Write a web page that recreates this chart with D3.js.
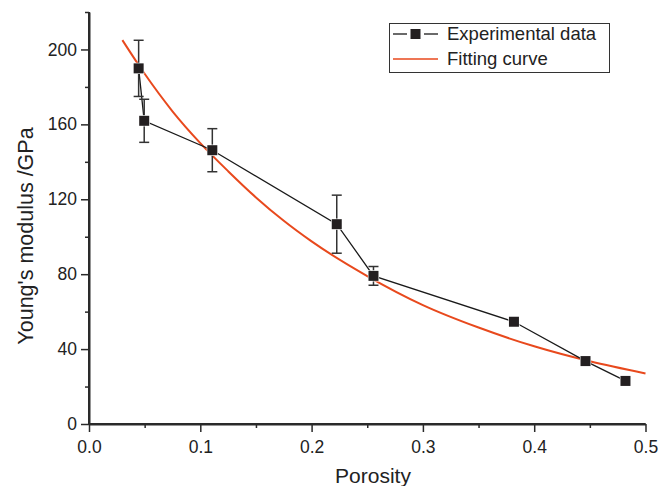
<!DOCTYPE html>
<html>
<head>
<meta charset="utf-8">
<script src="https://cdn.jsdelivr.net/npm/d3@7"></script>
<style>
  html, body { margin: 0; padding: 0; background: #fff; }
  svg { display: block; font-family: "Liberation Sans", Arial, sans-serif; }
</style>
</head>
<body>
<svg id="chart" width="670" height="486"></svg>
<script>
// Experimental data (porosity, Young's modulus GPa, error half-width)
const porosity = [0.0446, 0.0496, 0.1108, 0.2226, 0.2556, 0.3818, 0.4461, 0.482];
const modulus  = [189.9, 161.9, 146.2, 106.7, 79.1, 54.6, 33.6, 23.0];
const errorBar = [15, 11.5, 11.5, 15.5, 5, 0, 0, 0];

// Fitting curve
const fitX = [0.03, 0.05, 0.075, 0.1, 0.125, 0.15, 0.175, 0.2, 0.25, 0.3, 0.35, 0.4, 0.45, 0.5];
const fitY = [205, 187, 167, 150, 135, 121, 108.5, 97.5, 79, 63.5, 51.5, 41.5, 33.5, 27];

const xMajor = [0, 0.1, 0.2, 0.3, 0.4, 0.5];
const xMinor = [0.05, 0.15, 0.25, 0.35, 0.45];
const yMajor = [0, 40, 80, 120, 160, 200];
const yMinor = [20, 60, 100, 140, 180, 220];

const legendLabels = ["Experimental data", "Fitting curve"];

const svg = d3.select("#chart");
const x = d3.scaleLinear().domain([0, 0.5]).range([89, 645.5]);
const y = d3.scaleLinear().domain([0, 220]).range([424, 12]);

const axisColor = "#2a2a2a";
const textColor = "#222";
const fitColor = "#e8491d";

// Axes
const xAxis = svg.append("g").attr("transform", `translate(0,${y(0)})`)
  .call(d3.axisBottom(x).tickValues(xMajor).tickFormat(d3.format(".1f")).tickSize(8).tickPadding(9).tickSizeOuter(0));
const xAxisMinor = svg.append("g").attr("transform", `translate(0,${y(0)})`)
  .call(d3.axisBottom(x).tickValues(xMinor).tickFormat("").tickSize(4).tickSizeOuter(0));
const yAxis = svg.append("g").attr("transform", `translate(${x(0)},0)`)
  .call(d3.axisLeft(y).tickValues(yMajor).tickFormat(d3.format("d")).tickSize(8).tickPadding(4).tickSizeOuter(0));
const yAxisMinor = svg.append("g").attr("transform", `translate(${x(0)},0)`)
  .call(d3.axisLeft(y).tickValues(yMinor).tickFormat("").tickSize(4).tickSizeOuter(0));

[xAxis, xAxisMinor, yAxis, yAxisMinor].forEach(g => {
  g.select(".domain").attr("stroke", axisColor).attr("stroke-width", 2);
  g.selectAll(".tick line").attr("stroke", axisColor).attr("stroke-width", 1.5);
  g.selectAll(".tick text").attr("fill", textColor).style("font-size", "17.5px")
    .style("font-family", '"Liberation Sans", Arial, sans-serif');
});
xAxis.select(".domain").attr("d", `M${x(0)-1},0H${x(0.5)}`);
yAxis.select(".domain").attr("d", `M0,${y(220)}V${y(0)+1}`);

// Axis titles
svg.append("text").attr("x", 373).attr("y", 483).attr("text-anchor", "middle")
  .attr("fill", textColor).style("font-size", "21px").text("Porosity");
svg.append("text").attr("transform", `translate(33,236) rotate(-90)`).attr("text-anchor", "middle")
  .attr("fill", textColor).style("font-size", "21.5px").text("Young's modulus /GPa");

// Fitting curve
const fitData = fitX.map((v, i) => [v, fitY[i]]);
svg.append("path").datum(fitData)
  .attr("fill", "none").attr("stroke", fitColor).attr("stroke-width", 2)
  .attr("d", d3.line().x(d => x(d[0])).y(d => y(d[1])).curve(d3.curveMonotoneX));

// Experimental line
const expData = porosity.map((v, i) => ({ p: v, e: modulus[i], err: errorBar[i] }));
svg.append("path").datum(expData)
  .attr("fill", "none").attr("stroke", "#1a1a1a").attr("stroke-width", 1.3)
  .attr("d", d3.line().x(d => x(d.p)).y(d => y(d.e)));

// Error bars
const eb = svg.append("g").attr("stroke", "#333").attr("stroke-width", 1.5);
expData.filter(d => d.err > 0).forEach(d => {
  const cx = x(d.p);
  eb.append("line").attr("x1", cx).attr("x2", cx).attr("y1", y(d.e + d.err)).attr("y2", y(d.e - d.err));
  eb.append("line").attr("x1", cx - 5).attr("x2", cx + 5).attr("y1", y(d.e + d.err)).attr("y2", y(d.e + d.err));
  eb.append("line").attr("x1", cx - 5).attr("x2", cx + 5).attr("y1", y(d.e - d.err)).attr("y2", y(d.e - d.err));
});

// Markers
svg.append("g").selectAll("rect").data(expData).join("rect")
  .attr("x", d => x(d.p) - 5).attr("y", d => y(d.e) - 5)
  .attr("width", 10).attr("height", 10).attr("fill", "#231f20")
  .attr("stroke", "#fff").attr("stroke-width", 1.2).attr("paint-order", "stroke");

// Legend
const lg = svg.append("g");
lg.append("rect").attr("x", 389.5).attr("y", 23.5).attr("width", 220).attr("height", 49)
  .attr("fill", "#fff").attr("stroke", "#333").attr("stroke-width", 1);
lg.append("line").attr("x1", 393).attr("x2", 407).attr("y1", 34).attr("y2", 34)
  .attr("stroke", "#1a1a1a").attr("stroke-width", 1.3);
lg.append("line").attr("x1", 424).attr("x2", 438).attr("y1", 34).attr("y2", 34)
  .attr("stroke", "#1a1a1a").attr("stroke-width", 1.3);
lg.append("rect").attr("x", 410.5).attr("y", 29).attr("width", 10).attr("height", 10).attr("fill", "#231f20");
lg.append("line").attr("x1", 393).attr("x2", 438).attr("y1", 59).attr("y2", 59)
  .attr("stroke", fitColor).attr("stroke-width", 1.5);
lg.selectAll("text").data(legendLabels).join("text")
  .attr("x", 447).attr("y", (d, i) => 34 + i * 25).attr("dy", "0.35em")
  .attr("fill", textColor).style("font-size", "18.5px").text(d => d);
</script>
</body>
</html>
